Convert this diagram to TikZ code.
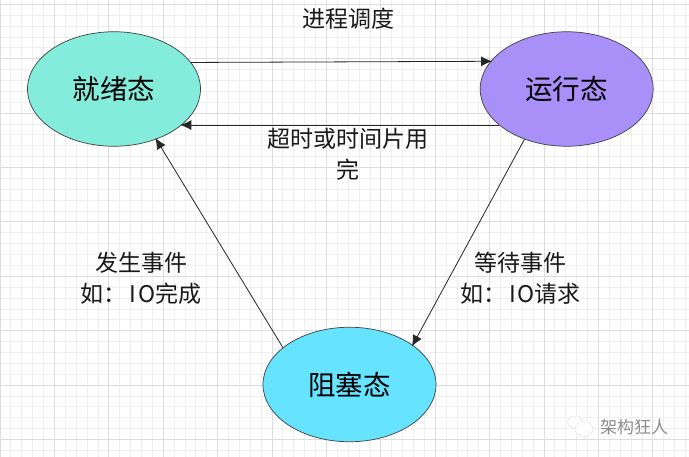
\documentclass[tikz,border=0pt]{standalone}
\usepackage{fontspec}
\setmainfont{Noto Sans CJK SC}
\usetikzlibrary{positioning, arrows.meta, shapes.geometric}

\definecolor{readycol}{HTML}{83ECDB}
\definecolor{runcol}{HTML}{A98FF8}
\definecolor{blockcol}{HTML}{66E3FF}
\definecolor{minorcol}{HTML}{EFEFEF}
\definecolor{majorcol}{HTML}{DCDCDC}

\begin{document}
\begin{tikzpicture}[
    x=1pt, y=-1pt,
    node distance=279pt and 279pt,
    state/.style={ellipse, draw=black!75, line width=0.7pt, minimum width=173pt, minimum height=114.5pt, inner sep=0pt, font=\fontsize{27.5}{27.5}\selectfont},
    arrow/.style={-{Latex[length=11pt,width=10pt]}, line width=0.8pt, draw=black!85, shorten >=-1.5pt},
    lbl/.style={font=\fontsize{23}{31}\selectfont, align=center, inner sep=0pt, text=black!90},
    wmark/.style={font=\fontsize{17}{17}\selectfont, inner sep=0pt, text=black!45},
    bubble/.style={ellipse, draw=black!35, densely dotted, fill=white, inner sep=0pt}
]
    \useasboundingbox (0,0) rectangle (689,457);
    \fill[white] (0,0) rectangle (689,457);

    % --- Background Grid ---
    \foreach \i in {0,...,63} \draw[minorcol, line width=0.8pt] (10.88*\i,0) -- (10.88*\i,457);
    \foreach \i in {0,...,42} \draw[minorcol, line width=0.8pt] (0,4.3+10.88*\i) -- (689,4.3+10.88*\i);
    \foreach \i in {0,...,12} \draw[majorcol, line width=0.8pt] (54.4*\i,0) -- (54.4*\i,457);
    \foreach \i in {0,...,8} \draw[majorcol, line width=0.8pt] (0,4.3+54.4*\i) -- (689,4.3+54.4*\i);

    % --- Core States ---
    \node[state, fill=readycol] (ready) at (114,89) {就绪态};
    \node[state, fill=runcol] (run) [right=of ready] {运行态};
    \node[state, fill=blockcol] (block) at (349.5,384.5) {\raisebox{-3pt}{阻塞态}};

    % --- Transitions ---
    \draw[arrow] (ready.19.9) -- (run.160.1);
    \draw[arrow] (run.208.6) -- (ready.-28.6);
    \draw[arrow] (run.230.7) -- (block.32.8);
    \draw[arrow] (block.151) -- (ready.-50.5);

    % --- Labels ---
    \node[lbl] (l_sched) at (348,19) {进程调度};
    \node[lbl] (l_timeout) at (348,154.5) {超时或时间片用\\完};
    \node[lbl] (l_wait) at (520.5,278) {等待事件\\如：\kern3pt I\kern2pt O请求};
    \node[lbl] (l_event) at (141,278) {发生事件\\如：\kern3pt I\kern2pt O完成};

    % --- Watermark ---
    \node[wmark] (wm) at (634,427) {架构狂人};
    \node[bubble, minimum width=15pt, minimum height=12pt] (b_back) at (575,422) {};
    \node[bubble, minimum width=18pt, minimum height=15pt] (b_front) at (584,429) {};
\end{tikzpicture}
\end{document}
